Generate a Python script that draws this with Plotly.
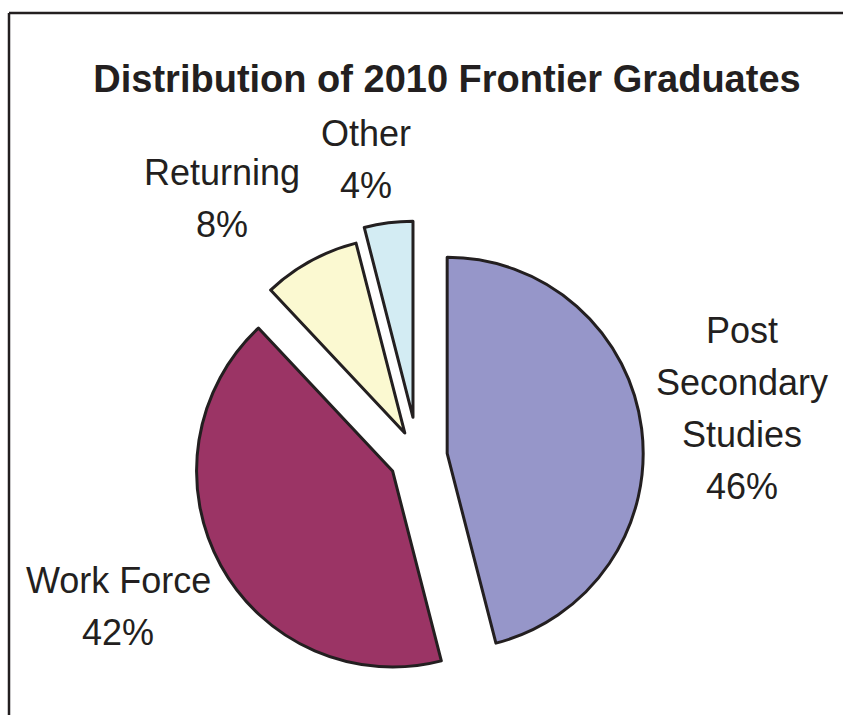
import plotly.graph_objects as go

# Destination of graduates
categories = ["Post Secondary Studies", "Work Force", "Returning", "Other"]
shares = [46, 42, 8, 4]
# label lines shown beside each slice (category words broken over lines)
label_lines = [["Post", "Secondary", "Studies"], ["Work Force"], ["Returning"], ["Other"]]

colors = ["#9696c9", "#9b3465", "#fbf9d1", "#d3ecf3"]
pulls = [0.15, 0.148, 0.14, 0.204]

W, H = 843, 715
INK = "#231f20"
FONT = "Liberation Sans, Arial, sans-serif"


def px_x(x):
    return x / W


def px_y(y):
    return 1 - y / H


# pie centre and outer size in pixels
cx, cy, half = 418, 457, 236

fig = go.Figure(
    go.Pie(
        labels=categories,
        values=shares,
        sort=False,
        direction="clockwise",
        rotation=0,
        pull=pulls,
        marker=dict(colors=colors, line=dict(color=INK, width=3)),
        textinfo="none",
        hoverinfo="label+percent",
        showlegend=False,
        domain=dict(x=[px_x(cx - half), px_x(cx + half)],
                    y=[px_y(cy + half), px_y(cy - half)]),
    )
)

# label anchor: (centre x, y of first line) in pixels, line step 52 px
label_pos = [(742, 330), (118, 580), (222, 172), (366, 133)]
step = 52
annotations = []
for lines, val, (lx, ly) in zip(label_lines, shares, label_pos):
    all_lines = lines + [f"{val}%"]
    for k, t in enumerate(all_lines):
        annotations.append(dict(
            text=t, x=px_x(lx), y=px_y(ly + k * step),
            xref="paper", yref="paper", xanchor="center", yanchor="middle",
            showarrow=False, font=dict(family=FONT, size=36, color=INK),
        ))

fig.update_layout(
    width=W, height=H,
    margin=dict(l=0, r=0, t=0, b=0),
    paper_bgcolor="white", plot_bgcolor="white",
    title=dict(
        text="<b>Distribution of 2010 Frontier Graduates</b>",
        x=px_x(447), xanchor="center",
        y=px_y(79), yanchor="middle", yref="container",
        font=dict(family=FONT, size=38, color=INK),
    ),
    annotations=annotations,
    shapes=[
        dict(type="line", xref="paper", yref="paper",
             x0=px_x(9), y0=px_y(13), x1=1.01, y1=px_y(13),
             line=dict(color=INK, width=2.5)),
        dict(type="line", xref="paper", yref="paper",
             x0=px_x(9), y0=px_y(13), x1=px_x(9), y1=-0.01,
             line=dict(color=INK, width=2.5)),
    ],
)

fig.write_html("out.html")
